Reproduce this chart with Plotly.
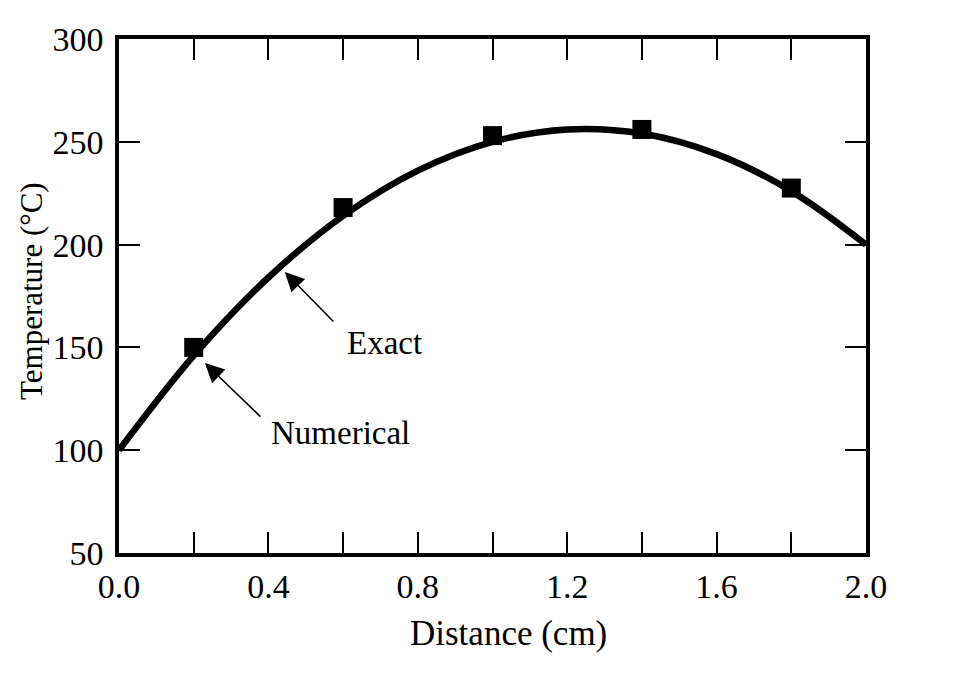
import plotly.graph_objects as go

# Exact solution
exact_x = [0.0, 0.2, 0.4, 0.6, 0.8, 1.0, 1.2, 1.4, 1.6, 1.8, 2.0]
exact_t = [100, 146, 184, 214, 236, 250, 256, 254, 244, 226, 200]

# Numerical solution points
num_x = [0.2, 0.6, 1.0, 1.4, 1.8]
num_t = [150, 218, 253, 256, 227.5]

x_tickvals = [0.0, 0.2, 0.4, 0.6, 0.8, 1.0, 1.2, 1.4, 1.6, 1.8, 2.0]
x_ticktext = ["0.0", "", "0.4", "", "0.8", "", "1.2", "", "1.6", "", "2.0"]
y_tickvals = [50, 100, 150, 200, 250, 300]

FONT = "Liberation Serif, Times New Roman, serif"

# page has an 8px body margin; size figure so it ends at the window edge
OFF = 8
W, H = 953 - OFF, 682 - OFF
PL, PR, PT, PB = 119, 866, 39, 553   # target plot-area pixel box in window
L, T = PL - OFF, PT - OFF
R = W - (PR - OFF)
B = H - (PB - OFF)
pw, ph = PR - PL, PB - PT

fig = go.Figure()
fig.add_trace(go.Scatter(x=exact_x, y=exact_t, mode="lines",
                         line=dict(color="black", width=6.5, shape="spline", smoothing=1.0),
                         showlegend=False))
fig.add_trace(go.Scatter(x=num_x, y=num_t, mode="markers",
                         marker=dict(symbol="square", size=19, color="black"),
                         showlegend=False))

axis_common = dict(showgrid=False, zeroline=False, showline=True, linecolor="black",
                   linewidth=3.5, mirror="ticks", ticks="inside", ticklen=21, tickwidth=1.8,
                   tickcolor="black", tickfont=dict(family=FONT, size=34, color="black"))

fig.update_xaxes(range=[0, 2.0], tickvals=x_tickvals, ticktext=x_ticktext, **axis_common)
fig.update_yaxes(range=[50, 300], tickvals=y_tickvals, ticklabelstandoff=5, **axis_common)


def px_to_paper(xp, yp):
    return (xp - PL) / pw, (PB - yp) / ph


tx, ty = px_to_paper(508, 633)
yx, yy = px_to_paper(31, 291)

annos = [
    dict(x=0.444, y=186.7, ax=50, ay=51, axref="pixel", ayref="pixel", text="",
         showarrow=True, arrowhead=2, arrowsize=2.4, arrowwidth=1.6, arrowcolor="black"),
    dict(x=0.230, y=142.4, ax=57, ay=55, axref="pixel", ayref="pixel", text="",
         showarrow=True, arrowhead=2, arrowsize=2.4, arrowwidth=1.6, arrowcolor="black"),
    dict(x=0.71, y=152.1, text="Exact", showarrow=False, xanchor="center", yanchor="middle",
         font=dict(family=FONT, size=33, color="black")),
    dict(x=0.592, y=108.4, text="Numerical", showarrow=False, xanchor="center", yanchor="middle",
         font=dict(family=FONT, size=33, color="black")),
    dict(x=tx, y=ty, xref="paper", yref="paper", text="Distance (cm)", showarrow=False,
         xanchor="center", yanchor="middle",
         font=dict(family=FONT, size=35, color="black")),
    dict(x=yx, y=yy, xref="paper", yref="paper", text="Temperature (°C)", showarrow=False,
         textangle=-90, xanchor="center", yanchor="middle",
         font=dict(family=FONT, size=31, color="black")),
]

fig.update_layout(width=W, height=H, margin=dict(l=L, r=R, t=T, b=B),
                  plot_bgcolor="white", paper_bgcolor="white", annotations=annos,
                  font=dict(family=FONT, color="black"))

fig.write_html("out.html")
